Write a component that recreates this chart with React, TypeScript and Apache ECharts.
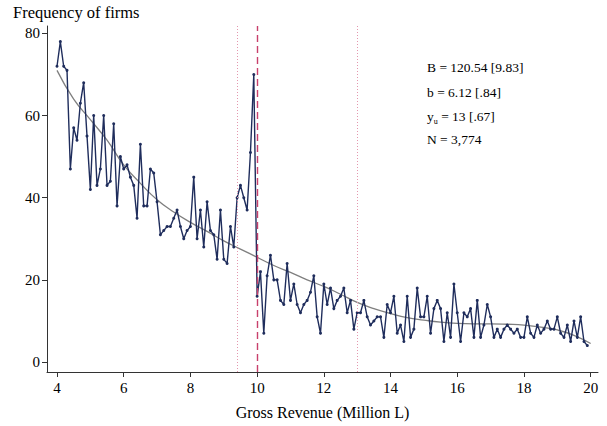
import React, { useEffect, useRef } from "react";
import * as echarts from "echarts";

// firm counts per 0.1 bin, 4.0 .. 19.9 (one row per unit)
const freq = [
  72, 78, 72, 71, 47, 57, 54, 63, 68, 55,
  42, 60, 43, 47, 60, 43, 44, 58, 38, 50,
  47, 48, 45, 43, 35, 53, 38, 38, 47, 46,
  39, 31, 32, 33, 33, 35, 37, 33, 30, 32,
  33, 45, 30, 37, 28, 39, 32, 31, 25, 37,
  25, 24, 33, 28, 40, 43, 40, 37, 51, 70,
  16, 22, 7, 21, 26, 20, 20, 15, 14, 24,
  15, 19, 14, 12, 14, 15, 17, 21, 11, 7,
  19, 14, 18, 13, 15, 16, 18, 12, 15, 8,
  12, 12, 15, 11, 9, 10, 11, 11, 6, 14,
  12, 16, 7, 9, 5, 16, 6, 8, 18, 11,
  11, 16, 7, 13, 15, 13, 5, 12, 6, 19,
  12, 5, 12, 11, 13, 6, 15, 6, 9, 14,
  11, 6, 8, 6, 8, 9, 8, 7, 8, 6,
  6, 11, 7, 6, 9, 7, 8, 10, 8, 8,
  11, 7, 6, 9, 5, 10, 6, 11, 5, 4,
];
const binStart = 4.0;
const binWidth = 0.1;

// counterfactual fit
const fitX = [4, 4.5, 5, 5.5, 6, 6.5, 7, 7.5, 8, 8.5, 9, 9.5, 10, 10.5, 11, 11.5, 12, 12.5, 13, 13.5, 14, 14.5, 15, 15.5, 16, 16.5, 17, 17.5, 18, 18.5, 19, 19.5, 20];
const fitY = [71, 64, 59, 54, 48, 43.5, 39.5, 36.5, 34, 31.8, 29.5, 27.5, 25.5, 23.5, 21.8, 20, 18.4, 16.5, 14.5, 13, 11.8, 10.8, 10.2, 9.7, 9.4, 9.3, 9.3, 9.2, 9, 8.5, 7.8, 6.5, 4.5];

const xTicks = [4, 6, 8, 10, 12, 14, 16, 18, 20];
const yTicks = [0, 20, 40, 60, 80];
const lowerBound = 9.4;
const threshold = 10;
const upperBound = 13;

const FONT = "'Liberation Serif', 'DejaVu Serif', serif";

const App: React.FC = () => {
  const chartRef = useRef<HTMLDivElement>(null);

  useEffect(() => {
    document.body.style.margin = "0";
    if (!chartRef.current) return;
    const chart = echarts.init(chartRef.current, undefined, { renderer: "svg" });

    const points = freq.map((v, i) => [
      Math.round((binStart + i * binWidth) * 10) / 10,
      v,
    ]);
    const fit = fitX.map((x, i) => [x, fitY[i]]);

    chart.setOption({
      animation: false,
      backgroundColor: "#fff",
      textStyle: { fontFamily: FONT },
      grid: { left: 47, right: 9, top: 26, bottom: 54 },
      xAxis: {
        type: "value",
        min: 3.7,
        max: 20.22,
        name: "Gross Revenue (Million L)",
        nameLocation: "middle",
        nameGap: 32,
        nameTextStyle: { fontFamily: FONT, fontSize: 16, color: "#000" },
        axisLine: { show: true, onZero: false, lineStyle: { color: "#333", width: 1 } },
        axisTick: { show: true, length: 5, customValues: xTicks, lineStyle: { color: "#333" } },
        axisLabel: {
          customValues: xTicks,
          fontFamily: FONT,
          fontSize: 15,
          color: "#000",
          margin: 8,
        },
        splitLine: { show: false },
      },
      yAxis: {
        type: "value",
        min: -2.43,
        max: 81.8,
        axisLine: { show: true, onZero: false, lineStyle: { color: "#333", width: 1 } },
        axisTick: { show: true, length: 5, customValues: yTicks, lineStyle: { color: "#333" } },
        axisLabel: {
          customValues: yTicks,
          fontFamily: FONT,
          fontSize: 15,
          color: "#000",
          margin: 7,
        },
        splitLine: { show: false },
      },
      graphic: [
        {
          type: "text",
          left: 13,
          top: 4,
          style: { text: "Frequency of firms", font: `16.5px ${FONT}`, fill: "#000" },
        },
        {
          type: "text",
          left: 427,
          top: 60,
          style: { text: "B = 120.54 [9.83]", font: `13.5px ${FONT}`, fill: "#000" },
        },
        {
          type: "text",
          left: 427,
          top: 85,
          style: { text: "b = 6.12 [.84]", font: `13.5px ${FONT}`, fill: "#000" },
        },
        {
          type: "text",
          left: 427,
          top: 109,
          style: {
            text: "{n|y}{s|u}{n| = 13 [.67]}",
            fill: "#000",
            rich: {
              n: { fontFamily: FONT, fontSize: 13.5, verticalAlign: "bottom" },
              s: { fontFamily: FONT, fontSize: 8, verticalAlign: "bottom", padding: [0, 0, -2, 0] },
            },
          },
        },
        {
          type: "text",
          left: 427,
          top: 132,
          style: { text: "N = 3,774", font: `13.5px ${FONT}`, fill: "#000" },
        },
      ],
      series: [
        {
          type: "line",
          data: fit,
          smooth: true,
          showSymbol: false,
          symbol: "none",
          lineStyle: { color: "#7f7f7f", width: 1.3 },
          z: 1,
          silent: true,
          markLine: {
            silent: true,
            symbol: ["none", "none"],
            label: { show: false },
            data: [
              { xAxis: lowerBound, lineStyle: { color: "#e497ae", type: [1, 2], width: 1 } },
              { xAxis: upperBound, lineStyle: { color: "#e497ae", type: [1, 2], width: 1 } },
              { xAxis: threshold, lineStyle: { color: "#c8406c", type: [7, 4], width: 1.4 } },
            ],
          },
        },
        {
          type: "line",
          data: points,
          symbol: "circle",
          symbolSize: 3,
          showSymbol: true,
          lineStyle: { color: "#1f2d5c", width: 1.4 },
          itemStyle: { color: "#1f2d5c" },
          z: 3,
        },
      ],
    });

    return () => {
      chart.dispose();
    };
  }, []);

  return <div ref={chartRef} style={{ width: 607, height: 426 }} />;
};

export default App;
